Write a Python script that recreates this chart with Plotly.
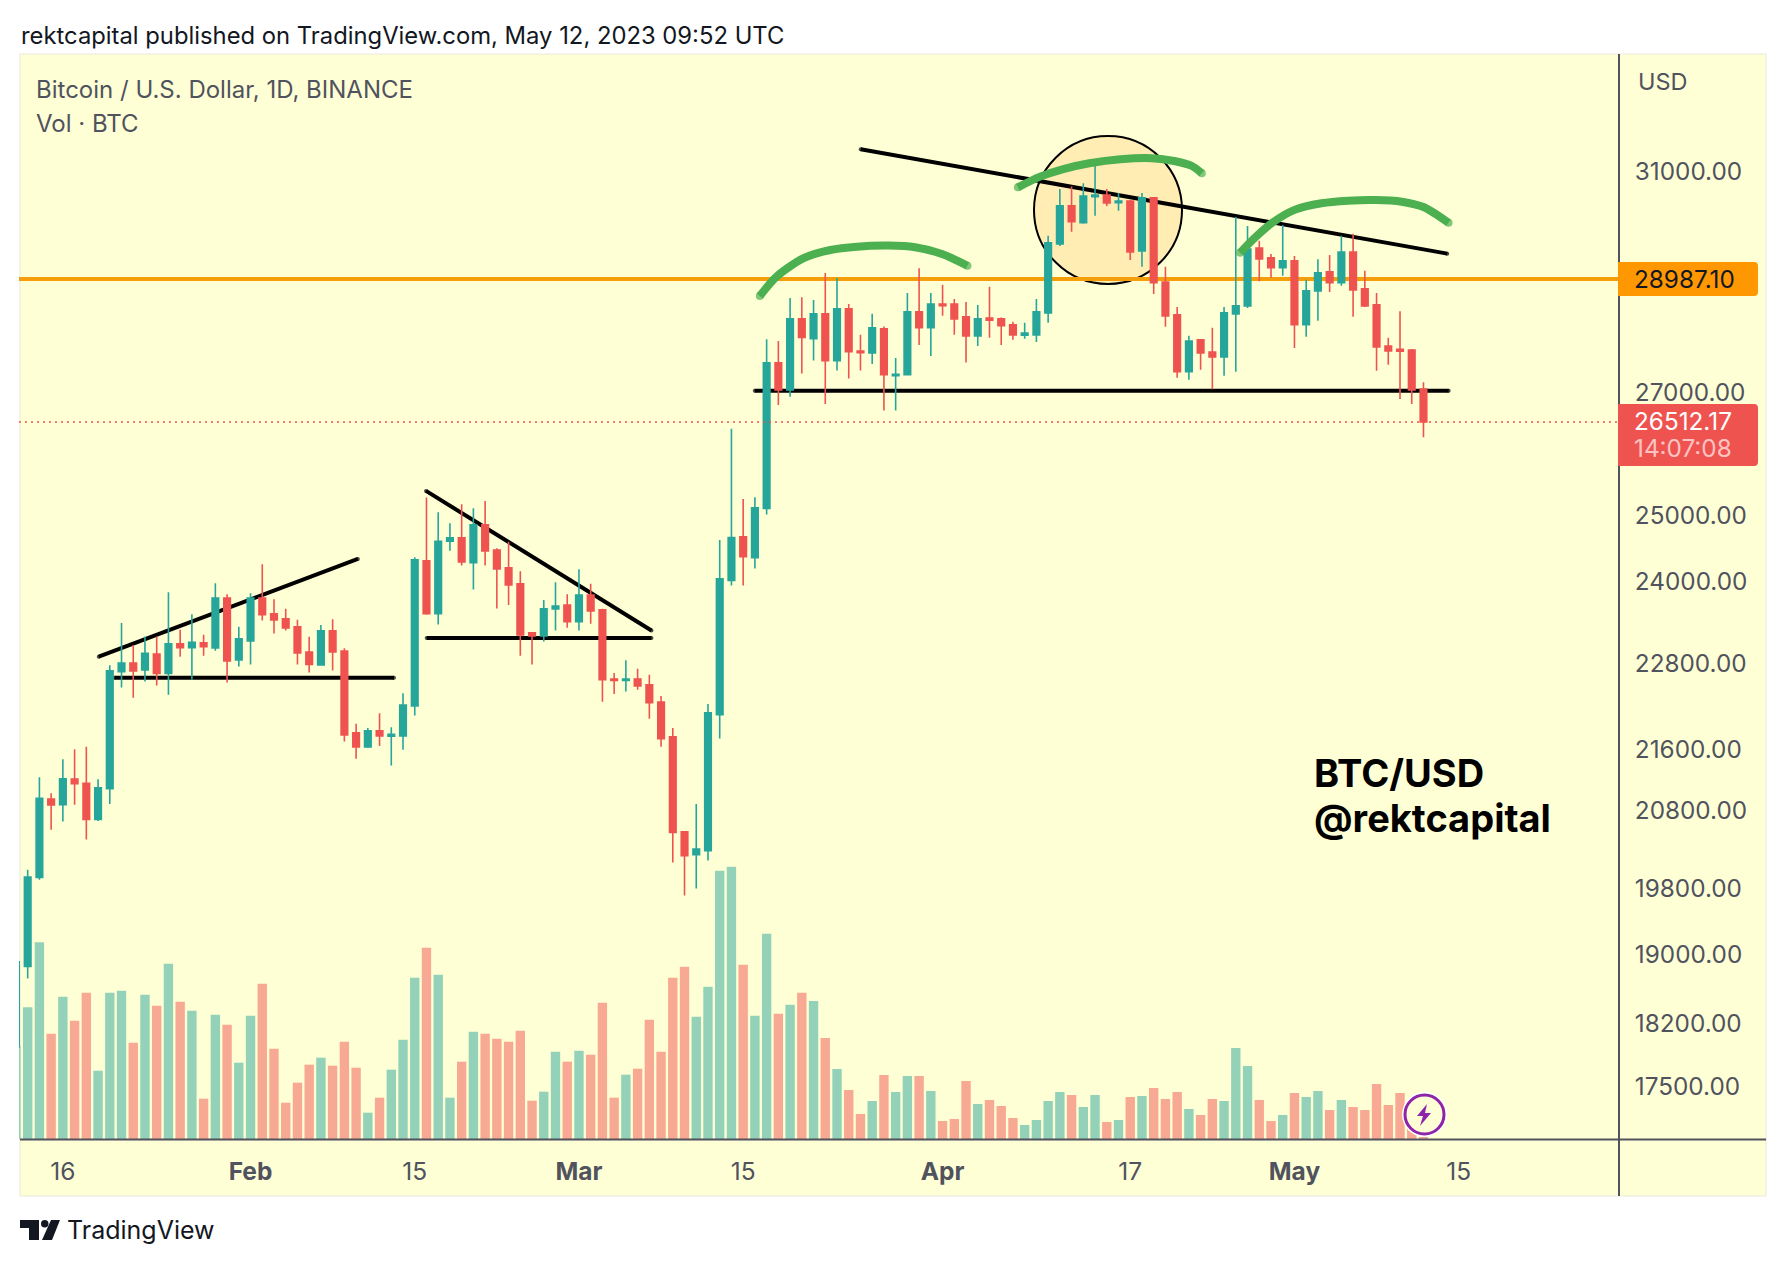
import pandas as pd
import plotly.graph_objects as go

# ---------- data ----------
first_day = "2023-01-12"
last_day = "2023-05-12"

opens = [17939,18863,19942,20945,20871,21207,21153,20678,21082,22678,22801,22706,22932,22654,23077,23023,23092,23018,23749,22847,
 23121,23749,23515,23442,23325,22961,22777,23266,22975,21829,21637,21857,21784,21788,22200,24306,23518,24606,24658,24280,24860,24471,24200,23960,23237,23193,23588,23646,
 23398,23794,23573,22575,22555,22575,22494,22255,21774,20520,20229,20279,22080,24009,24673,24355,25114,27508,27048,28276,27925,28364,27547,28452,27713,27679,28100,27287,27304,28399,28118,
 28540,28540,28311,27977,28288,28276,28171,27989,27994,28382,29631,30344,30025,30520,30552,30405,30437,29501,30500,28932,28346,27356,27907,27696,27611,28364,28505,29556,29374,29192,
 29319,28171,28774,29120,28920,29483,28811,28523,27800,27742,27730,27060]
highs = [18918,20038,21233,21021,21472,21606,21642,21207,22773,23379,23062,23183,23183,23835,23281,23510,23208,23970,23804,23325,
 23819,24256,23730,23588,23427,23179,23350,23437,23014,21953,21894,22100,21907,22377,24361,25289,25058,24886,25182,25120,25233,24497,24600,24151,23247,23719,23985,23804,
 24181,23960,23588,22660,22843,22720,22635,22339,21894,20520,20880,22227,24627,26397,25265,25292,27919,27888,28647,28660,28611,29096,29005,28540,27994,28364,28141,27593,28738,29186,28738,
 28883,28629,28576,28523,28847,28299,28223,28206,28629,29781,30668,30712,30777,31163,30668,30590,30456,30590,30500,29210,28487,27977,27907,28118,28487,30132,29963,29688,29447,29982,
 29410,28974,29350,29428,29781,29819,29138,28738,27942,28411,27747,27176]
lows = [17939,18723,19914,20546,20652,20871,20421,20660,20880,22456,22315,22541,22484,22357,22894,22565,22908,22979,22527,22753,
 22781,23417,23227,23271,22781,22668,22763,22696,21710,21480,21623,21651,21387,21600,22067,23500,23358,24460,24235,23874,24235,23592,23646,22908,22781,23111,23271,23310,
 23271,23369,22259,22367,22400,22424,22021,21642,20130,19718,19805,20154,21751,23934,23934,24190,25020,26794,26933,27326,27547,26811,27377,27241,27377,27491,26700,26700,27290,27818,27628,
 28329,27994,27513,27800,27942,27818,27907,27925,27871,28206,29594,29856,30007,30156,30344,30250,29337,29210,28720,28135,27254,27220,27389,27059,27287,27356,28470,28950,29010,29046,
 27767,27959,28241,28756,28865,28311,28487,27372,27474,26893,26811,26260]
closes = [18918,19947,20955,20868,21211,21148,20678,21091,22692,22801,22692,22942,22654,23077,23023,23102,23038,23749,22833,23150,
 23749,23504,23427,23310,22947,22781,23266,22961,21802,21637,21857,21788,21811,22213,24321,23518,24606,24658,24291,24860,24456,24185,23945,23208,23193,23588,23631,23398,
 23794,23558,22565,22555,22575,22480,22245,21751,20511,20217,20300,22104,24035,24662,24370,25125,27508,27048,28276,27947,28364,27547,28452,27701,27684,28118,27304,27314,28399,28118,28540,
 28510,28276,27977,28276,28253,28153,27994,28024,28399,29650,30344,30044,30533,30552,30400,30437,29483,30500,28920,28329,27356,27888,27679,27611,28382,28505,29538,29355,29192,29319,
 28171,28774,29101,28920,29483,28792,28505,27784,27713,27708,27048,26512.17]
volumes_k = [278,395,590,316,427,355,439,205,439,445,289,433,400,526,412,385,121,373,343,229,
 370,466,271,109,169,223,244,220,292,214,79,124,208,298,484,574,493,124,232,322,316,301,292,325,115,142,262,232,
 265,253,409,124,193,211,358,262,484,517,367,457,805,817,523,370,616,376,403,439,414,303,210,147,75,114,192,141,189,189,144,
 54,60,174,105,117,99,63,42,57,114,141,132,96,132,51,57,126,129,153,120,141,90,72,120,114,273,219,117,54,72,
 138,126,144,87,117,96,87,165,102,138,77,5]

price_ticks = [31000,27000,25000,24000,22800,21600,20800,19800,19000,18200,17500]
date_ticks = ["2023-01-16","2023-02-01","2023-02-15","2023-03-01","2023-03-15","2023-04-01","2023-04-17","2023-05-01","2023-05-15"]
date_tick_labels = ["16","<b>Feb</b>","15","<b>Mar</b>","15","<b>Apr</b>","17","<b>May</b>","15"]

alert_price = 28987.10
last_price = 26512.17

# drawings: days after 1 Feb 2023, price
rise_days, rise_prices = [-12.94, 9.15], [22894, 24336]
flat1_days, flat1_prices = [-11.6, 12.23], [22593, 22593]
fall_days, fall_prices = [14.96, 34.18], [25393, 23271]
flat2_days, flat2_prices = [15.02, 34.18], [23164, 23164]
res_days, res_prices = [52.02, 102.03], [31437, 29452]
flat3_days, flat3_prices = [42.99, 102.15], [27035, 27035]
arc1_days = [43.42,44.86,47.15,49.43,51.71,54.38,56.66,58.95,61.12]
arc1_prices = [28684,29034,29368,29519,29581,29600,29570,29446,29229]
arc2_days = [65.42,67.32,69.22,71.51,74.17,76.83,78.74,80.26,81.10]
arc2_prices = [30698,30904,31046,31163,31241,31261,31208,31110,30969]
arc3_days = [84.37,85.59,87.11,89.01,91.30,93.58,95.86,98.15,100.05,102.14]
arc3_prices = [29470,29739,30025,30268,30394,30443,30456,30424,30319,30025]

# ---------- styles ----------
TEAL, RED = "#26A69A", "#EF5350"
VOL_TEAL, VOL_RED = "#93D2B8", "#F8A993"
PANEL = "#FFFFD6"
AXIS = "#50535E"
FONT = "Inter"
L, R, T, B = 19, 1619, 54, 1139   # plot area in page pixels
W_P, H_P = R - L, B - T

def fx(px): return (px - L) / W_P
def fy(py): return (B - py) / H_P
def when(days): return [pd.Timestamp("2023-02-01") + pd.Timedelta(days=d) for d in days]

dates = pd.date_range(first_day, last_day, freq="D")
vol_colors = [VOL_TEAL if c >= o else VOL_RED for o, c in zip(opens, closes)]
x_range = [when([-19.74])[0], when([116.67])[0]]

fig = go.Figure()
fig.add_trace(go.Bar(x=dates, y=volumes_k, marker=dict(color=vol_colors, line_width=0),
                     width=0.8 * 86400000, yaxis="y", hoverinfo="skip"))

def line(x, y, color, w, axis, end_size=None, dash=None, spline=False):
    sizes = [end_size if i in (0, len(x) - 1) else 0 for i in range(len(x))] if end_size else None
    fig.add_trace(go.Scatter(
        x=x, y=y, yaxis=axis, mode="lines+markers" if end_size else "lines",
        line=dict(color=color, width=w, dash=dash, shape="spline" if spline else "linear", smoothing=0.8),
        marker=dict(size=sizes, color=color, line_width=0) if end_size else None,
        hoverinfo="skip"))

line(list(x_range), [alert_price, alert_price], "#F59E0B", 4, "y2")
for d, p in [(rise_days, rise_prices), (flat1_days, flat1_prices), (fall_days, fall_prices),
             (flat2_days, flat2_prices), (res_days, res_prices), (flat3_days, flat3_prices)]:
    line(when(d), p, "#000000", 4, "y2", end_size=4)

fig.add_trace(go.Candlestick(
    x=dates, open=opens, high=highs, low=lows, close=closes, yaxis="y3",
    increasing=dict(line=dict(color=TEAL, width=1.6), fillcolor=TEAL),
    decreasing=dict(line=dict(color=RED, width=1.6), fillcolor=RED),
    whiskerwidth=0, hoverinfo="skip"))

line(list(x_range), [last_price, last_price], RED, 1.5, "y4", dash="2px,4px")
for d, p in [(arc1_days, arc1_prices), (arc2_days, arc2_prices), (arc3_days, arc3_prices)]:
    line(when(d), p, "#4CAF50", 8, "y4", end_size=8, spline=True)

def rect(x0, y0, x1, y1, fill, layer="below", lc=None, lw=0, kind="rect"):
    return dict(type=kind, xref="paper", yref="paper", x0=fx(x0), x1=fx(x1), y0=fy(y1), y1=fy(y0),
                fillcolor=fill, line=dict(color=lc or fill, width=lw), layer=layer)

def poly(points, fill, layer="above"):
    d = "M" + " L".join(f"{fx(a):.5f},{fy(b):.5f}" for a, b in points) + " Z"
    return dict(type="path", xref="paper", yref="paper", path=d, fillcolor=fill, line_width=0, layer=layer)

def tag(x0, y0, x1, y1, fill, r=4):
    q = lambda a, b: f"{fx(a):.5f},{fy(b):.5f}"
    d = (f"M{q(x0,y0)} L{q(x1-r,y0)} Q{q(x1,y0)} {q(x1,y0+r)} L{q(x1,y1-r)} "
         f"Q{q(x1,y1)} {q(x1-r,y1)} L{q(x0,y1)} Z")
    return dict(type="path", xref="paper", yref="paper", path=d, fillcolor=fill, line_width=0, layer="above")

shapes = [
    rect(20, 54, 1766, 1196, PANEL, lc="#F1F1E1", lw=1.5),
    rect(1034, 136, 1182, 284, "rgba(255,190,90,0.27)", lc="#000000", lw=2, kind="circle"),
    rect(20, 1138.5, 1766, 1140.5, "#50535E", layer="above"),
    rect(1618, 54, 1620, 1196, "#50535E", layer="above"),
    tag(1618, 262, 1758, 296, "#FF9800"),
    tag(1618, 404, 1758, 466, RED),
    rect(1402, 1092, 1447, 1137, "#FFFFFF", layer="above", kind="circle"),
    rect(1405, 1095, 1444, 1134, PANEL, layer="above", lc="#8E24AA", lw=3, kind="circle"),
    poly([(1427,1104),(1417,1116),(1423,1116),(1420,1126),(1431,1113),(1425,1113)], "#8E24AA"),
    poly([(20,1220),(39,1220),(39,1240),(29,1240),(29,1228),(20,1228)], "#131722"),
    rect(41, 1220, 48.5, 1227.5, "#131722", layer="above", kind="circle"),
    poly([(51,1220),(60,1220),(52,1240),(42,1240)], "#131722"),
]

def note(px, py, text, size, color=AXIS, anchor="left"):
    return dict(xref="paper", yref="paper", x=fx(px), y=fy(py), text=text, showarrow=False,
                xanchor=anchor, yanchor="middle", align="left",
                font=dict(family=FONT, size=size, color=color))

annotations = [
    note(18.5, 35, "rektcapital published on TradingView.com, May 12, 2023 09:52 UTC", 23.8, "#131722"),
    note(33.5, 89.5, "Bitcoin / U.S. Dollar, 1D, BINANCE", 24),
    note(33.5, 123.5, "Vol · BTC", 24),
    note(1636, 81, "USD", 23.5),
    note(1632, 279, "28987.10", 24.3, "#131722"),
    note(1632, 421, "26512.17", 24.3, "#FFFFFF"),
    note(1632, 448, "14:07:08", 24.3, "#FBC4C3"),
    note(1312, 773, "<b>BTC/USD</b>", 38, "#000000"),
    note(1312, 818, "<b>@rektcapital</b>", 38, "#000000"),
    note(65, 1230, "TradingView", 25, "#131722"),
]

log_lo, log_hi = 4.2288, 4.5233
hidden_log = dict(type="log", range=[log_lo, log_hi], overlaying="y", visible=False, anchor="x")

fig.update_layout(
    width=1786, height=1266, autosize=False, showlegend=False,
    margin=dict(l=L, r=1786 - R, t=T, b=1266 - B, pad=0),
    paper_bgcolor="#FFFFFF", plot_bgcolor="rgba(0,0,0,0)",
    boxgap=0.2, shapes=shapes, annotations=annotations,
    font=dict(family=FONT, color=AXIS, size=22),
    xaxis=dict(type="date", range=x_range, tickmode="array", tickvals=date_ticks, ticktext=date_tick_labels,
               showgrid=False, zeroline=False, showline=False, ticks="outside", ticklen=11,
               tickcolor="rgba(0,0,0,0)", tickfont=dict(family=FONT, size=24.5, color=AXIS),
               rangeslider=dict(visible=False), tickangle=0, anchor="y"),
    yaxis=dict(range=[0, 3255], visible=False, fixedrange=True),
    yaxis2=dict(**hidden_log),
    yaxis3=dict(type="log", range=[log_lo, log_hi], overlaying="y", side="right", anchor="x",
                tickmode="array", tickvals=price_ticks, ticktext=[f"{v:.2f}" for v in price_ticks],
                showgrid=False, zeroline=False, showline=False, ticks="outside", ticklen=10,
                tickcolor="rgba(0,0,0,0)", tickfont=dict(family=FONT, size=24.3, color=AXIS)),
    yaxis4=dict(**hidden_log),
)

fig.write_html("out.html", config=dict(displayModeBar=False), post_script="document.body.style.margin='0';")
